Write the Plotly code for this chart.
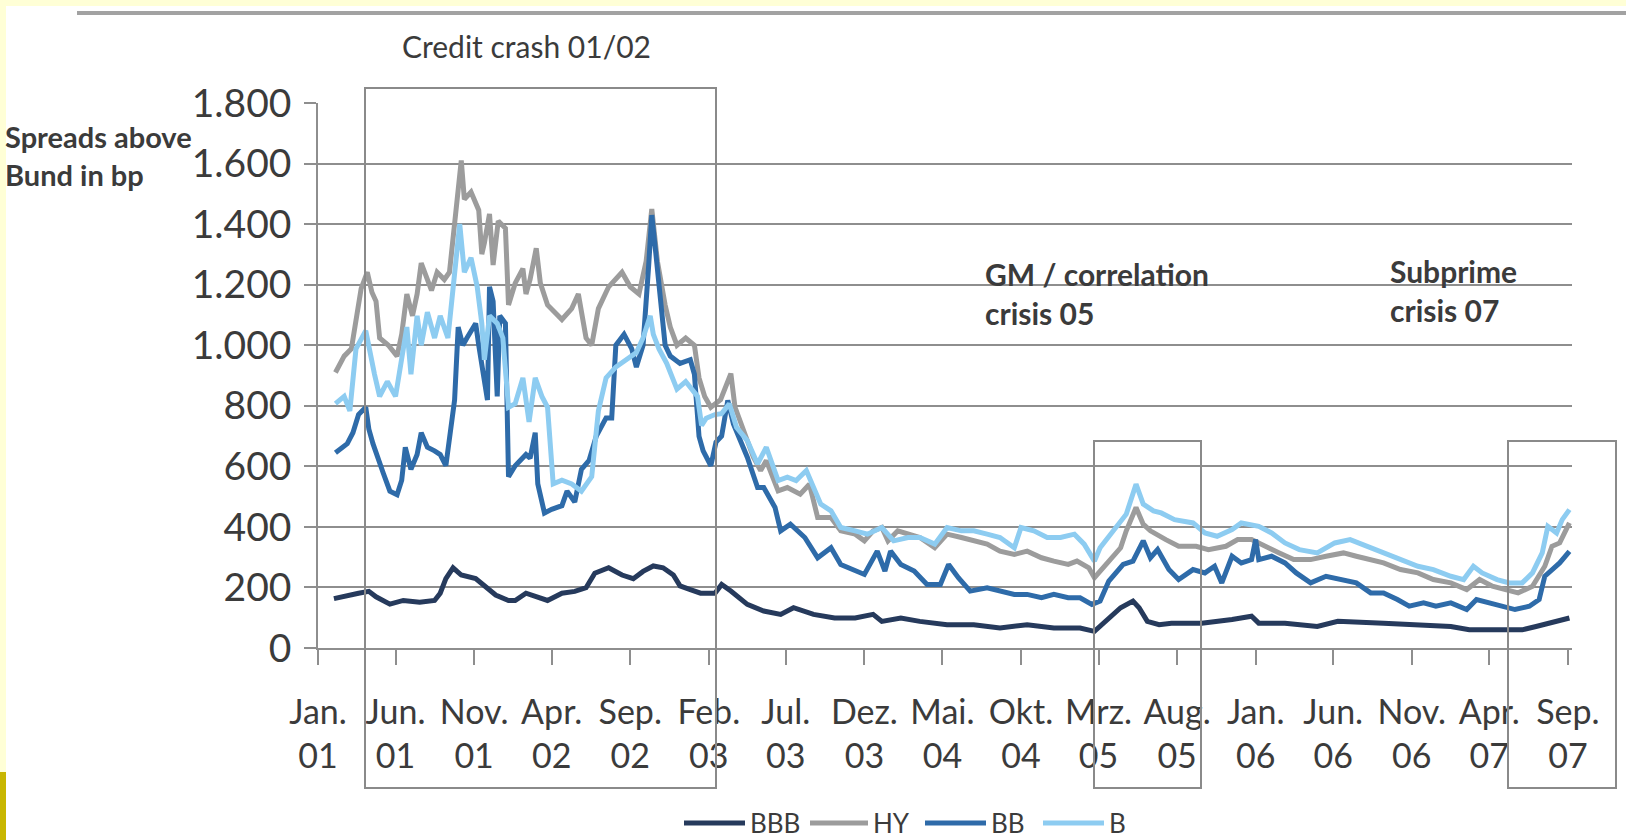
import plotly.graph_objects as go

# Spreads above Bund (bp)
bbb_dates = ["2001-02-01", "2001-02-27", "2001-03-21", "2001-04-10", "2001-04-24", "2001-05-21", "2001-06-16",
             "2001-07-18", "2001-08-16", "2001-08-27", "2001-09-07", "2001-09-21", "2001-10-07", "2001-11-04",
             "2001-11-21", "2001-12-13", "2002-01-07", "2002-01-20", "2002-02-10", "2002-02-28", "2002-03-24",
             "2002-04-21", "2002-05-16", "2002-06-07", "2002-06-24", "2002-07-21", "2002-08-16", "2002-09-07",
             "2002-09-26", "2002-10-16", "2002-11-04", "2002-11-24", "2002-12-07", "2002-12-27", "2003-01-16",
             "2003-02-13", "2003-02-26", "2003-03-16", "2003-04-17", "2003-05-19", "2003-06-21", "2003-07-16",
             "2003-08-24", "2003-10-04", "2003-11-13", "2003-12-18", "2004-01-04", "2004-02-10", "2004-03-18",
             "2004-05-10", "2004-07-01", "2004-08-21", "2004-10-13", "2004-12-04", "2005-01-24", "2005-02-21",
             "2005-03-16", "2005-04-13", "2005-05-07", "2005-05-19", "2005-06-04", "2005-06-27", "2005-07-21",
             "2005-09-18", "2005-11-16", "2005-12-24", "2006-01-07", "2006-02-27", "2006-05-01", "2006-06-10",
             "2006-09-07", "2006-11-13", "2007-01-16", "2007-02-21", "2007-04-13", "2007-06-04", "2007-07-01",
             "2007-07-24", "2007-08-16", "2007-09-04"]
bbb = [163, 175, 181, 187, 169, 145, 157, 151, 157, 181, 229, 265, 241, 229, 205, 175, 157, 157, 181, 169,
       157, 181, 187, 199, 247, 265, 241, 229, 253, 271, 265, 241, 205, 193, 181, 181, 210, 188, 144, 122,
       111, 133, 111, 99, 99, 111, 88, 99, 88, 77, 77, 66, 77, 66, 66, 55, 88, 133, 155, 133,
       88, 77, 82, 82, 94, 105, 82, 82, 71, 88, 82, 77, 71, 60, 60, 60, 71, 82, 94, 99]

hy_dates = ["2001-02-04", "2001-02-21", "2001-03-07", "2001-03-16", "2001-03-26", "2001-04-07", "2001-04-16",
            "2001-04-24", "2001-05-01", "2001-05-18", "2001-06-04", "2001-06-13", "2001-06-23", "2001-07-04",
            "2001-07-13", "2001-07-21", "2001-08-10", "2001-08-21", "2001-09-04", "2001-09-14", "2001-09-24",
            "2001-10-01", "2001-10-07", "2001-10-13", "2001-10-26", "2001-11-10", "2001-11-16", "2001-11-21",
            "2001-12-01", "2001-12-08", "2001-12-18", "2002-01-01", "2002-01-07", "2002-01-20", "2002-02-04",
            "2002-02-10", "2002-02-18", "2002-03-02", "2002-03-10", "2002-03-24", "2002-04-21", "2002-05-10",
            "2002-05-23", "2002-06-07", "2002-06-18", "2002-07-01", "2002-07-21", "2002-08-16", "2002-09-01",
            "2002-09-18", "2002-10-02", "2002-10-13", "2002-10-24", "2002-11-08", "2002-11-18", "2002-12-01",
            "2002-12-18", "2003-01-04", "2003-01-13", "2003-01-24", "2003-02-05", "2003-02-24", "2003-03-16",
            "2003-03-24", "2003-04-10", "2003-04-29", "2003-05-13", "2003-05-24", "2003-06-16", "2003-07-04",
            "2003-07-29", "2003-08-16", "2003-09-01", "2003-09-27", "2003-10-16", "2003-11-13", "2003-12-01",
            "2003-12-18", "2004-01-04", "2004-01-16", "2004-02-04", "2004-02-24", "2004-03-18", "2004-04-16",
            "2004-05-10", "2004-06-07", "2004-07-01", "2004-07-27", "2004-08-21", "2004-09-18", "2004-10-13",
            "2004-11-10", "2004-12-04", "2005-01-01", "2005-01-18", "2005-02-10", "2005-02-21", "2005-03-04",
            "2005-03-21", "2005-04-13", "2005-04-24", "2005-05-13", "2005-05-27", "2005-06-10", "2005-07-10",
            "2005-08-04", "2005-09-07", "2005-10-01", "2005-11-04", "2005-11-27", "2005-12-24", "2006-01-18",
            "2006-02-16", "2006-03-16", "2006-04-18", "2006-05-18", "2006-06-21", "2006-07-16", "2006-08-13",
            "2006-09-07", "2006-10-10", "2006-11-13", "2006-12-13", "2007-01-16", "2007-02-16", "2007-03-13",
            "2007-04-07", "2007-05-04", "2007-05-27", "2007-06-24", "2007-07-18", "2007-08-01", "2007-08-16",
            "2007-09-04"]
hy = [910, 964, 988, 1072, 1187, 1241, 1175, 1145, 1024, 1000, 964, 1036, 1169, 1097, 1169, 1271, 1181, 1241,
      1217, 1241, 1398, 1530, 1610, 1482, 1506, 1446, 1301, 1338, 1434, 1265, 1410, 1386, 1133, 1205, 1253,
      1169, 1217, 1320, 1205, 1133, 1085, 1121, 1169, 1024, 1000, 1121, 1193, 1241, 1193, 1169, 1277, 1450,
      1277, 1133, 1060, 1000, 1024, 1000, 892, 831, 795, 820, 906, 796, 718, 630, 586, 619, 519, 530,
      508, 541, 431, 431, 387, 376, 354, 387, 398, 354, 387, 376, 365, 331, 376, 365, 354, 343, 320, 309,
      320, 298, 287, 276, 287, 265, 232, 254, 287, 331, 387, 464, 409, 387, 358, 336, 336, 325, 336, 358,
      358, 336, 314, 292, 292, 303, 314, 303, 292, 281, 259, 248, 226, 215, 193, 226, 204, 193, 182, 204,
      270, 336, 347, 413]

bb_dates = ["2001-02-04", "2001-02-27", "2001-03-10", "2001-03-21", "2001-04-04", "2001-04-10", "2001-04-18",
            "2001-04-27", "2001-05-08", "2001-05-21", "2001-06-04", "2001-06-13", "2001-06-20", "2001-07-01",
            "2001-07-13", "2001-07-21", "2001-08-02", "2001-08-16", "2001-08-27", "2001-09-07", "2001-09-17",
            "2001-09-24", "2001-10-01", "2001-10-10", "2001-10-18", "2001-11-04", "2001-11-10", "2001-11-18",
            "2001-11-27", "2001-12-01", "2001-12-08", "2001-12-16", "2001-12-21", "2002-01-01", "2002-01-07",
            "2002-01-20", "2002-02-10", "2002-02-18", "2002-02-28", "2002-03-05", "2002-03-18", "2002-04-01",
            "2002-04-21", "2002-05-01", "2002-05-16", "2002-05-29", "2002-06-13", "2002-06-27", "2002-07-16",
            "2002-07-27", "2002-08-04", "2002-08-20", "2002-09-04", "2002-09-13", "2002-09-26", "2002-10-07",
            "2002-10-13", "2002-10-21", "2002-10-29", "2002-11-08", "2002-11-18", "2002-12-07", "2002-12-27",
            "2003-01-04", "2003-01-13", "2003-01-21", "2003-02-05", "2003-02-15", "2003-02-26", "2003-03-10",
            "2003-03-21", "2003-04-17", "2003-05-07", "2003-05-19", "2003-06-10", "2003-06-21", "2003-07-10",
            "2003-08-07", "2003-09-01", "2003-09-27", "2003-10-16", "2003-11-13", "2003-12-01", "2003-12-26",
            "2004-01-10", "2004-01-21", "2004-02-10", "2004-03-07", "2004-04-01", "2004-04-27", "2004-05-13",
            "2004-06-01", "2004-06-24", "2004-07-27", "2004-08-21", "2004-09-18", "2004-10-13", "2004-11-10",
            "2004-12-04", "2005-01-01", "2005-01-24", "2005-02-16", "2005-03-04", "2005-03-21", "2005-04-18",
            "2005-05-07", "2005-05-27", "2005-06-10", "2005-06-24", "2005-07-16", "2005-08-04", "2005-09-01",
            "2005-09-24", "2005-10-13", "2005-10-27", "2005-11-16", "2005-12-04", "2005-12-24", "2006-01-01",
            "2006-01-07", "2006-02-01", "2006-02-27", "2006-03-21", "2006-04-18", "2006-05-18", "2006-06-21",
            "2006-07-16", "2006-08-13", "2006-09-07", "2006-10-04", "2006-10-27", "2006-11-24", "2006-12-18",
            "2007-01-16", "2007-02-16", "2007-03-07", "2007-04-01", "2007-04-27", "2007-05-21", "2007-06-18",
            "2007-07-07", "2007-07-18", "2007-08-01", "2007-08-16", "2007-09-04"]
bb = [645, 675, 711, 771, 795, 723, 675, 627, 578, 518, 506, 554, 663, 590, 639, 711, 663, 651, 639, 602,
      723, 819, 1060, 1000, 1024, 1072, 1000, 904, 819, 1193, 1145, 831, 1097, 1072, 566, 602, 639, 627,
      711, 542, 446, 458, 470, 518, 482, 590, 620, 700, 760, 760, 1000, 1036, 988, 928, 1000, 1265, 1430,
      1301, 1181, 1000, 964, 940, 952, 904, 699, 651, 602, 680, 700, 818, 740, 630, 530, 530, 464, 387,
      409, 365, 298, 331, 276, 254, 243, 320, 254, 320, 276, 254, 210, 210, 276, 232, 188, 199, 188, 177,
      177, 166, 177, 166, 166, 144, 155, 221, 276, 287, 354, 298, 325, 259, 226, 259, 248, 270, 215, 303,
      281, 292, 358, 292, 303, 281, 248, 215, 237, 226, 215, 182, 182, 160, 138, 149, 138, 149, 127, 160,
      149, 138, 127, 138, 160, 237, 259, 281, 319]

b_dates = ["2001-02-04", "2001-02-21", "2001-03-04", "2001-03-16", "2001-04-04", "2001-04-13", "2001-04-21",
           "2001-05-01", "2001-05-16", "2001-06-01", "2001-06-13", "2001-06-23", "2001-07-01", "2001-07-13",
           "2001-07-21", "2001-08-02", "2001-08-16", "2001-08-27", "2001-09-11", "2001-09-24", "2001-10-04",
           "2001-10-13", "2001-10-26", "2001-11-07", "2001-11-16", "2001-11-21", "2001-12-01", "2001-12-16",
           "2001-12-27", "2002-01-07", "2002-01-20", "2002-02-04", "2002-02-16", "2002-02-28", "2002-03-13",
           "2002-03-24", "2002-04-04", "2002-04-21", "2002-05-10", "2002-05-29", "2002-06-18", "2002-07-01",
           "2002-07-16", "2002-08-04", "2002-08-23", "2002-09-13", "2002-09-26", "2002-10-10", "2002-10-16",
           "2002-10-27", "2002-11-11", "2002-12-01", "2002-12-18", "2003-01-10", "2003-01-18", "2003-01-27",
           "2003-02-13", "2003-02-26", "2003-03-13", "2003-03-27", "2003-04-17", "2003-05-07", "2003-05-24",
           "2003-06-16", "2003-07-04", "2003-07-21", "2003-08-10", "2003-08-24", "2003-09-07", "2003-09-27",
           "2003-10-16", "2003-11-13", "2003-12-07", "2004-01-04", "2004-01-27", "2004-02-24", "2004-03-18",
           "2004-04-16", "2004-05-10", "2004-06-07", "2004-07-01", "2004-07-27", "2004-08-21", "2004-09-18",
           "2004-10-01", "2004-10-26", "2004-11-21", "2004-12-17", "2005-01-13", "2005-02-01", "2005-02-21",
           "2005-03-04", "2005-03-29", "2005-04-24", "2005-05-13", "2005-05-27", "2005-06-16", "2005-07-01",
           "2005-07-27", "2005-09-01", "2005-09-24", "2005-10-18", "2005-11-16", "2005-12-04", "2006-01-07",
           "2006-02-01", "2006-02-27", "2006-03-27", "2006-05-01", "2006-06-04", "2006-07-04", "2006-08-07",
           "2006-09-07", "2006-10-10", "2006-11-13", "2006-12-13", "2007-01-16", "2007-02-10", "2007-03-01",
           "2007-03-18", "2007-04-16", "2007-05-10", "2007-06-04", "2007-06-24", "2007-07-13", "2007-07-24",
           "2007-08-10", "2007-08-21", "2007-09-04"]
b = [807, 831, 783, 988, 1048, 964, 904, 831, 880, 831, 952, 1060, 904, 1097, 1000, 1109, 1024, 1097, 1024,
     1217, 1400, 1241, 1289, 1193, 1072, 952, 1097, 1072, 1024, 795, 807, 892, 747, 892, 831, 795, 542,
     554, 542, 518, 566, 783, 892, 928, 952, 976, 1024, 1097, 1036, 988, 940, 855, 880, 831, 735, 759,
     771, 774, 807, 729, 685, 608, 663, 553, 564, 553, 586, 530, 475, 453, 398, 387, 376, 398, 354, 365,
     365, 343, 398, 387, 387, 376, 365, 331, 398, 387, 365, 365, 376, 343, 287, 331, 387, 442, 541, 475,
     453, 446, 424, 413, 380, 369, 391, 413, 402, 380, 347, 325, 314, 347, 358, 336, 314, 292, 270, 259,
     237, 226, 270, 248, 226, 215, 215, 248, 314, 402, 380, 424, 457]

tick_dates = ["2001-01-01", "2001-06-01", "2001-11-01", "2002-04-01", "2002-09-01", "2003-02-01",
              "2003-07-01", "2003-12-01", "2004-05-01", "2004-10-01", "2005-03-01", "2005-08-01",
              "2006-01-01", "2006-06-01", "2006-11-01", "2007-04-01", "2007-09-01"]
tick_labels = ["Jan.<br>01", "Jun.<br>01", "Nov.<br>01", "Apr.<br>02", "Sep.<br>02", "Feb.<br>03",
               "Jul.<br>03", "Dez.<br>03", "Mai.<br>04", "Okt.<br>04", "Mrz.<br>05", "Aug.<br>05",
               "Jan.<br>06", "Jun.<br>06", "Nov.<br>06", "Apr.<br>07", "Sep.<br>07"]

series = [("BBB", bbb_dates, bbb, "#263a5c"),
          ("HY", hy_dates, hy, "#9c9c9c"),
          ("BB", bb_dates, bb, "#2e6ba9"),
          ("B", b_dates, b, "#8dccf1")]

W, H = 1626, 840
L, R, T, B = 318, 54, 103, 192
PW, PH = W - L - R, H - T - B
FONT = "Lato, 'Open Sans', sans-serif"
TXT = "#3b3b3b"
GRID = "#8e8e8e"


def px(x):
    return (x - L) / PW


def py(y):
    return (H - B - y) / PH


fig = go.Figure()
for name, d, v, c in series:
    fig.add_trace(go.Scatter(x=d, y=v, mode="lines", name=name,
                             line=dict(color=c, width=5), showlegend=False))

shapes = []
# pale yellow scan border
shapes.append(dict(type="rect", xref="paper", yref="paper", x0=px(0), x1=px(6), y0=py(0), y1=py(840),
                   fillcolor="#ffffd6", line=dict(width=0), layer="above"))
shapes.append(dict(type="rect", xref="paper", yref="paper", x0=px(0), x1=px(1626), y0=py(0), y1=py(6),
                   fillcolor="#ffffd6", line=dict(width=0), layer="above"))
shapes.append(dict(type="rect", xref="paper", yref="paper", x0=px(0), x1=px(6), y0=py(772), y1=py(840),
                   fillcolor="#c8b600", line=dict(width=0), layer="above"))
# top rule
shapes.append(dict(type="line", xref="paper", yref="paper", x0=px(77), x1=px(1626), y0=py(13), y1=py(13),
                   line=dict(color="#a2a2a2", width=4)))
# crisis boxes
for x0, x1, y0 in [(365, 716, 88), (1094, 1201, 441), (1508, 1616, 441)]:
    shapes.append(dict(type="rect", xref="paper", yref="paper", x0=px(x0), x1=px(x1), y0=py(y0), y1=py(788),
                       line=dict(color="#8a8a8a", width=2), fillcolor="rgba(0,0,0,0)", layer="above"))

annotations = [
    dict(text="Credit crash 01/02", x=px(526), y=py(46), xanchor="center", yanchor="middle",
         font=dict(size=30, color=TXT)),
    dict(text="<b>Spreads above<br>Bund in bp</b>", x=px(3), y=py(155), xanchor="left", yanchor="middle",
         align="left", font=dict(size=29, color=TXT)),
    dict(text="<b>GM / correlation<br>crisis 05</b>", x=px(983), y=py(293), xanchor="left", yanchor="middle",
         align="left", font=dict(size=30, color=TXT)),
    dict(text="<b>Subprime<br>crisis 07</b>", x=px(1388), y=py(290), xanchor="left", yanchor="middle",
         align="left", font=dict(size=30, color=TXT)),
]

# legend drawn by hand to match the wide line samples
leg_y = 823
for (name, _, _, c), (lx0, lx1, tx) in zip(series, [(684, 745, 748), (810, 868, 871),
                                                   (925, 986, 989), (1043, 1104, 1107)]):
    shapes.append(dict(type="line", xref="paper", yref="paper", x0=px(lx0), x1=px(lx1),
                       y0=py(leg_y), y1=py(leg_y), line=dict(color=c, width=5)))
    annotations.append(dict(text=name, x=px(tx), y=py(leg_y), xanchor="left", yanchor="middle",
                            font=dict(size=26, color=TXT)))

for a in annotations:
    a.update(xref="paper", yref="paper", showarrow=False)

fig.update_layout(
    width=W, height=H,
    margin=dict(l=L, r=R, t=T, b=B),
    paper_bgcolor="white", plot_bgcolor="white",
    font=dict(family=FONT, color=TXT),
    separators=",.",
    showlegend=False,
    shapes=shapes,
    annotations=annotations,
    xaxis=dict(type="date", range=["2001-01-01", "2007-09-09"],
               tickvals=tick_dates, ticktext=tick_labels,
               ticks="outside", ticklen=15, tickwidth=2, tickcolor=GRID,
               ticklabelstandoff=18,
               showline=True, linecolor=GRID, linewidth=2,
               showgrid=False, zeroline=False,
               tickfont=dict(size=34, color=TXT)),
    yaxis=dict(range=[0, 1800], dtick=200, tickformat=",d",
               ticks="outside", ticklen=12, tickwidth=2, tickcolor=GRID,
               ticklabelstandoff=5,
               showgrid=True, gridcolor=GRID, gridwidth=2,
               showline=True, linecolor=GRID, linewidth=1.5,
               zeroline=False,
               tickfont=dict(size=39, color=TXT)),
)

# page body has an 8px default margin; drop it so the figure fills the window
fig.write_html("out.html", config={"displayModeBar": False},
               post_script="document.body.style.margin='0';document.body.style.overflow='hidden';")
